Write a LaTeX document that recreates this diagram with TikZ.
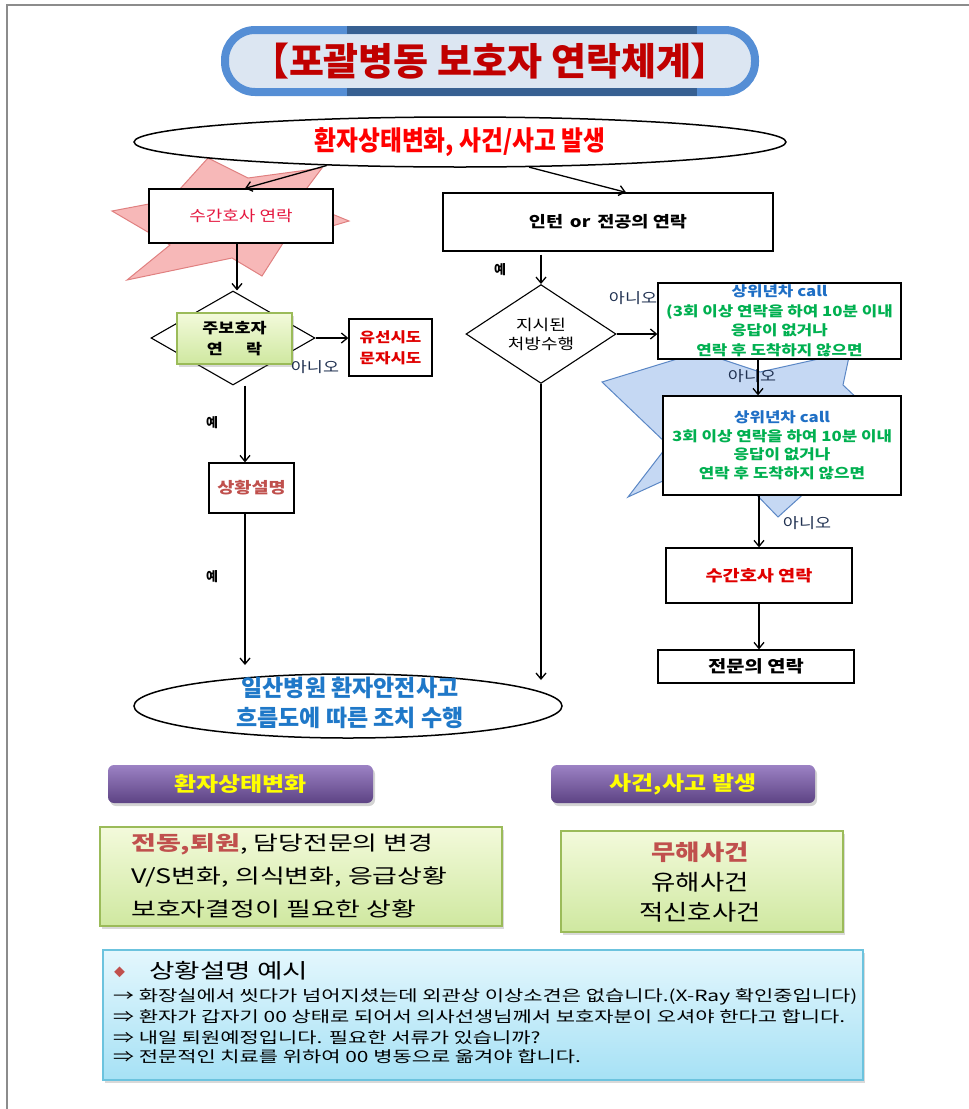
\documentclass[tikz,border=0pt]{standalone}
\usepackage{fontspec}
\setmainfont{Noto Sans CJK KR}
\newfontfamily\wf[FakeStretch=1.2]{Noto Sans CJK KR}
\newfontfamily\xwf[FakeStretch=1.35]{Noto Sans CJK KR}
\newfontfamily\cf[FakeStretch=0.88]{Noto Sans CJK KR}
\newcommand\myfs[2]{\fontsize{#1}{#2}\selectfont}
\usetikzlibrary{shapes.geometric,arrows.meta,calc,shadows}
\definecolor{tborder}{HTML}{558ED5}
\definecolor{tdark}{HTML}{376092}
\definecolor{tfill}{HTML}{DCE6F2}
\definecolor{tred}{HTML}{C00000}
\definecolor{starred}{HTML}{F7B8B8}
\definecolor{starredline}{HTML}{E08080}
\definecolor{starblue}{HTML}{C5D8F3}
\definecolor{starblueline}{HTML}{5B87C5}
\definecolor{gline}{HTML}{9BBB59}
\definecolor{gtop}{HTML}{F3FADB}
\definecolor{gbot}{HTML}{CFE8A0}
\definecolor{ptop}{HTML}{9C82C4}
\definecolor{pbot}{HTML}{5D4384}
\definecolor{btop}{HTML}{E4F7FD}
\definecolor{bbot}{HTML}{A6E1F5}
\definecolor{bline}{HTML}{6CC3DE}
\definecolor{dred}{HTML}{C0504D}
\definecolor{cblue}{HTML}{1F6FC5}
\definecolor{cgreen}{HTML}{00B050}
\definecolor{eblue}{HTML}{1F78C8}
\definecolor{lblc}{HTML}{1F3050}
\definecolor{nred}{HTML}{E5173F}
\definecolor{framec}{HTML}{8C8C8C}
\definecolor{yel}{HTML}{FFFF00}
\definecolor{bred}{HTML}{E00000}
\begin{document}
\begin{tikzpicture}[x=1pt,y=-1pt,
  box/.style={draw, line width=1.3, fill=white, inner sep=0, align=center},
  arr/.style={line width=1.3, -{Straight Barb[length=6pt,width=10pt]}},
  lbl/.style={inner sep=0, text=lblc, font=\wf\myfs{14.5}{16}},
  yes/.style={inner sep=0, font=\bfseries\myfs{13}{14}},
  dia/.style={diamond, draw, line width=1.1, fill=white, inner sep=0},
  gbox/.style={draw=gline, line width=1.2, top color=gtop, bottom color=gbot,
     drop shadow={shadow xshift=2pt, shadow yshift=-3pt, opacity=0.3}},
  pbtn/.style={rounded corners=6, top color=ptop, bottom color=pbot, text=yel,
     font=\wf\bfseries\myfs{20}{22}, inner sep=0,
     drop shadow={shadow xshift=2pt, shadow yshift=-3pt, opacity=0.35}},
  star/.style={line width=1}
]
\path[use as bounding box] (0,0) rectangle (969,1109);
\draw[framec, line width=2.5] (7,1109) -- (7,5) -- (969,5);

% title
\node[draw=tborder, line width=8, fill=tfill, rounded corners=30, outer sep=0,
  minimum width=530, minimum height=62, inner sep=0,
  font=\bfseries\myfs{38}{42}, text=tred] (t) at (490,61) {【포괄병동 보호자 연락체계】};
\draw[tdark, line width=8] ($(t.north)+(-143,0)$) -- ($(t.north)+(207,0)$);
\draw[tdark, line width=8] ($(t.south)+(-143,0)$) -- ($(t.south)+(207,0)$);

% stars
\filldraw[star, fill=starred, draw=starredline] (208,158) -- (248,178) -- (322,168) -- (298,200) -- (349,221) -- (285,240) -- (262,276) -- (232,258) -- (127,280) -- (170,245) -- (112,211) -- (170,200) -- cycle;
\filldraw[star, fill=starblue, draw=starblueline] (602,382) -- (700,352) -- (760,372) -- (850,352) -- (843,385) -- (880,420) -- (830,470) -- (778,517) -- (752,490) -- (665,480) -- (628,497) -- (668,445) -- cycle;

% top ellipse
\node[ellipse, draw, line width=1.5, fill=white, minimum width=652, minimum height=50, inner sep=0,
  font=\cf\bfseries\myfs{27}{30}, text=red] (e1) at (460,142) {환자상태변화, 사건/사고 발생};

% left column
\node[box, minimum width=184, minimum height=54, font=\wf\myfs{15}{18}, text=nred] (b1) at (241,216) {수간호사 연락};
\node[dia, minimum width=164, minimum height=94] (d1) at (233,338) {};
\node[gbox, minimum width=115, minimum height=51, inner sep=0, align=center, font=\wf\bfseries\myfs{14.5}{21}] (g1) at (234.5,338.5) {주보호자\\연\hspace{1.6em}락};
\node[box, minimum width=83, minimum height=57, font=\wf\bfseries\myfs{14}{21}, text=bred] (ys) at (390.5,347.5) {유선시도\\문자시도};
\node[lbl] (n1) at (315,367) {아니오};
\node[yes] (y1) at (212,423) {예};
\node[box, minimum width=85, minimum height=50, font=\wf\bfseries\myfs{15.5}{17}, text=dred] (sb) at (251.5,488) {상황설명};
\node[yes] (y2) at (212,577) {예};

% bottom ellipse
\node[ellipse, draw, line width=1.5, fill=white, minimum width=428, minimum height=64, inner sep=0] (e2) at (348,706) {};
\node[inner sep=0, align=center, font=\bfseries\myfs{23}{30}, text=eblue] (e2t) at (350,703) {일산병원 환자안전사고\\흐름도에 따른 조치 수행};
\coordinate (c1) at (245,665);
\coordinate (c2) at (541,680);

% right column
\node[box, minimum width=330, minimum height=58, font=\wf\bfseries\myfs{15.5}{17}] (b2) at (608,222) {인턴\, or\, 전공의 연락};
\node[yes] (y3) at (500,270) {예};
\node[dia, minimum width=150, minimum height=95, font=\wf\myfs{15}{19}, align=center] (d2) at (541,334) {지시된\\처방수행};
\node[lbl] (n2) at (633,298) {아니오};
\node[box, minimum width=243, minimum height=76, font=\wf\bfseries\myfs{14}{19.5}, text=cgreen] (r1) at (779.5,321)
  {\textcolor{cblue}{상위년차 call}\\(3회 이상 연락을 하여 10분 이내\\응답이 없거나\\연락 후 도착하지 않으면};
\node[box, minimum width=238, minimum height=99, font=\wf\bfseries\myfs{14}{18.5}, text=cgreen] (r2) at (782,445.5)
  {\textcolor{cblue}{상위년차 call}\\3회 이상 연락을 하여 10분 이내\\응답이 없거나\\연락 후 도착하지 않으면};
\node[lbl] (n3) at (752,376) {아니오};
\node[lbl] (n4) at (807,523) {아니오};
\node[box, minimum width=186, minimum height=55, font=\wf\bfseries\myfs{15.5}{18}, text=bred] (r3) at (759,575.5) {수간호사 연락};
\node[box, minimum width=196, minimum height=33, font=\wf\bfseries\myfs{16.5}{18}] (r4) at (756,666.5) {전문의 연락};

% connectors
\draw[arr] (e1.190) -- ([xshift=4]b1.north);
\draw[arr] (e1.340) -- ([xshift=18]b2.north);
\draw[arr] ([xshift=-4]b1.south) -- ([xshift=4]d1.north);
\draw[arr] (d1.east) -- (d1.east -| ys.west);
\draw[arr] ([xshift=12]d1.south) -- ([xshift=-6.5]sb.north);
\draw[arr] ([xshift=-6.5]sb.south) -- (c1);
\draw[arr, shorten <=3] (b2.south -| d2.north) -- (d2.north);
\draw[arr] (d2.east) -- (d2.east -| r1.west);
\draw[arr] (d2.south) -- (c2);
\draw[arr] ([xshift=-21.5]r1.south) -- ([xshift=-24]r2.north);
\draw[arr] ([xshift=-23]r2.south) -- (r3.north);
\draw[arr] (r3.south) -- ([xshift=3]r4.north);

% bottom section
\node[pbtn, minimum width=265, minimum height=38] (p1) at (240.5,784) {환자상태변화};
\node[pbtn, minimum width=264, minimum height=38] (p2) at (683,784) {사건,사고 발생};
\node[gbox, minimum width=402, minimum height=99] (g2) at (301,876.5) {};
\node[anchor=west, inner sep=0, align=left, font=\xwf\myfs{20}{33}] (g2t) at (131,876)
  {\textcolor{dred}{\bfseries 전동,퇴원}, 담당전문의 변경\\V/S변화, 의식변화, 응급상황\\보호자결정이 필요한 상황};
\node[gbox, minimum width=282, minimum height=101] (g3) at (702,881.5) {};
\node[inner sep=0, align=center, font=\wf\myfs{22}{30}] (g3t) at (700,882)
  {\textcolor{dred}{\bfseries 무해사건}\\유해사건\\적신호사건};

\node[draw=bline, line width=1.5, top color=btop, bottom color=bbot, minimum width=760, minimum height=130,
  drop shadow={shadow xshift=2pt, shadow yshift=-3pt, opacity=0.3}] (bb) at (483,1015) {};
\node[anchor=west, inner sep=0, text=dred, font=\myfs{11}{13}] (bul) at (114,972) {◆};
\node[anchor=west, inner sep=0, font=\xwf\myfs{20.5}{24}] (bh) at (149,971) {상황설명 예시};
\node[anchor=west, inner sep=0, font=\xwf\myfs{15.5}{20}] (l1) at (113,997) {→ 화장실에서 씻다가 넘어지셨는데 외관상 이상소견은 없습니다.(X-Ray 확인중입니다)};
\node[anchor=west, inner sep=0, font=\xwf\myfs{15.5}{20}] (l2) at (113,1017) {⇒ 환자가 갑자기 00 상태로 되어서 의사선생님께서 보호자분이 오셔야 한다고 합니다.};
\node[anchor=west, inner sep=0, font=\xwf\myfs{15.5}{20}] (l3) at (113,1038) {⇒ 내일 퇴원예정입니다. 필요한 서류가 있습니까?};
\node[anchor=west, inner sep=0, font=\xwf\myfs{15.5}{20}] (l4) at (113,1057) {⇒ 전문적인 치료를 위하여 00 병동으로 옮겨야 합니다.};
\end{tikzpicture}
\end{document}
